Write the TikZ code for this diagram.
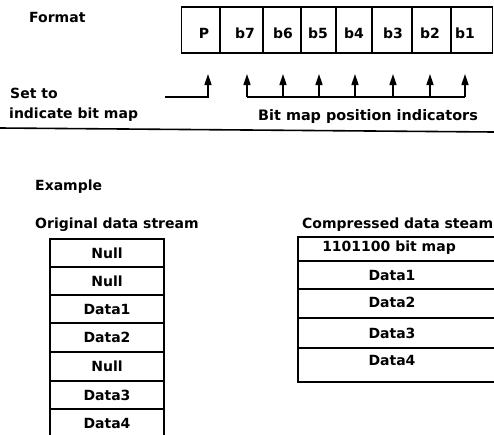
\documentclass[tikz,border=0pt]{standalone}
\usepackage{fontspec}
\setmainfont{DejaVu Sans}
\usetikzlibrary{arrows.meta}
\begin{document}
\begin{tikzpicture}[x=1pt,y=-1pt,
  every node/.style={font=\bfseries\fontsize{14}{16}\selectfont, inner sep=0pt},
  cell/.style={draw, line width=1.6pt, minimum height=46pt},
  rowbox/.style={draw, line width=1.6pt},
  ptr/.style={line width=1.6pt, -{Triangle[length=11pt,width=7pt]}},
  rule/.style={line width=1.6pt}
  ]
\useasboundingbox (0,0) rectangle (494,434);
\clip (0,0) rectangle (494,434);

% ---- format register ----
\node[anchor=base west] (fmt) at (29,22) {Format};

\node[cell, minimum width=39pt] (cP) at (201,30) {};
\node[cell, minimum width=43pt] (c7) at (241.5,30) {};
\node[cell, minimum width=38pt] (c6) at (282,30) {};
\node[cell, minimum width=35pt] (c5) at (318.5,30) {};
\node[cell, minimum width=36pt] (c4) at (354,30) {};
\node[cell, minimum width=40pt] (c3) at (392,30) {};
\node[cell, minimum width=39pt] (c2) at (431.5,30) {};
\node[cell, minimum width=41pt] (c1) at (472,30) {};

\node (lP) at (204,33) {P};
\node (l7) at (245,33) {b7};
\node (l6) at (283,33) {b6};
\node (l5) at (318,33) {b5};
\node (l4) at (354,33) {b4};
\node (l3) at (393,33) {b3};
\node (l2) at (430,33) {b2};
\node (l1) at (465,33) {b1};

% arrow tips under the register
\coordinate (tP) at (208,74);
\coordinate (t7) at (247,74);
\coordinate (t6) at (283,74);
\coordinate (t5) at (319,74);
\coordinate (t4) at (355,74);
\coordinate (t3) at (393,74);
\coordinate (t2) at (430,74);
\coordinate (t1) at (465,74);
\coordinate (base) at (0,97);
\coordinate (sP) at (165,97);

% parity marker
\draw[ptr] (sP) -| (tP);
% bit map position bracket
\draw[rule] (t7 |- base) -- (t1 |- base);
\foreach \t in {t7,t6,t5,t4,t3,t2,t1}
  \draw[ptr] (\t |- base) -- (\t);

\node[anchor=base west] (set) at (10,98) {Set to};
\node[anchor=base west] (ind) at (9,118) {indicate bit map};
\node[anchor=base west] (bmp) at (258,120) {\fontsize{14.4}{16}\selectfont Bit map position indicators};

% separator
\coordinate (hl) at (0,128);
\coordinate (hr) at (494,132);
\draw[rule] (hl) -- (hr);

% ---- example ----
\node[anchor=base west] (ex) at (35,190) {Example};
\node[anchor=base west] (orig) at (35,228) {Original data stream};
\node[anchor=base west] (comp) at (302,228) {Compressed data steam};

% original stream
\foreach \n/\y/\h/\txt in {o1/253/28/Null, o2/281/28/Null, o3/309/28/Data1,
    o4/337.5/29/Data2, o5/366.5/29/Null, o6/395/28/Data3, o7/423.5/29/Data4}
  \node[rowbox, minimum width=114pt, minimum height=\h pt] (\n) at (107,\y) {\txt};

% compressed stream
\foreach \n/\y/\h in {k1/249/24, k2/275/28, k3/303.5/29, k4/333/30, k5/365/34}
  \node[rowbox, minimum width=198pt, minimum height=\h pt] (\n) at (397,\y) {};
\node (kt1) at ([xshift=-8pt,yshift=1pt]k1.center) {1101100 bit map};
\node (kt2) at ([xshift=-5pt]k2.center) {Data1};
\node (kt3) at ([xshift=-5pt,yshift=1pt]k3.center) {Data2};
\node (kt4) at ([xshift=-5pt]k4.center) {Data3};
\node (kt5) at ([xshift=-5pt,yshift=5pt]k5.center) {Data4};
\end{tikzpicture}
\end{document}
